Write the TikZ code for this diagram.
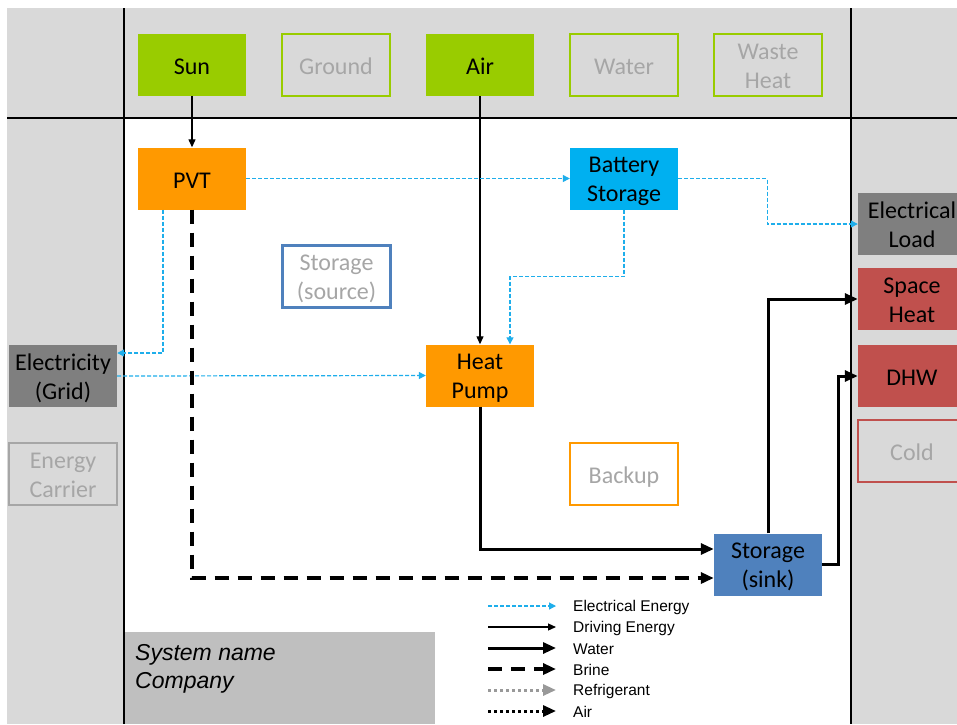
\documentclass[tikz,border=0pt]{standalone}
\usepackage{fontspec}
\setmainfont{Carlito}
\newfontfamily\legfont{Liberation Sans}
\usetikzlibrary{arrows.meta}

\definecolor{bggray}{HTML}{D9D9D9}
\definecolor{namegray}{HTML}{BFBFBF}
\definecolor{txtgray}{HTML}{A6A6A6}
\definecolor{srcgreen}{HTML}{99CC00}
\definecolor{convorange}{HTML}{FF9900}
\definecolor{batblue}{HTML}{00B0F0}
\definecolor{storblue}{HTML}{4F81BD}
\definecolor{sinkred}{HTML}{C0504D}
\definecolor{gridgray}{HTML}{7F7F7F}
\definecolor{elecline}{HTML}{1EAEEB}
\definecolor{refgray}{HTML}{999999}

\tikzset{
  box/.style={minimum width=108pt, minimum height=62pt, inner sep=0pt, align=center,
    font=\fontsize{24}{29}\selectfont, text height=40.5pt, text depth=21.5pt},
  twolines/.style={text width=108pt, text height=25pt, text depth=37pt},
  fullbox/.style={box, fill=#1, text=black},
  openbox/.style={box, draw=#1, line width=2.5pt, text=txtgray},
  elec/.style={draw=elecline, line width=1.2pt, dash pattern=on 4pt off 2pt,
    -{Triangle[length=7pt,width=7pt]}},
  drive/.style={draw=black, line width=1.2pt, -{Triangle[length=8pt,width=7pt]}},
  water/.style={draw=black, line width=3pt, -{Triangle[length=13pt,width=11pt]}},
  brine/.style={draw=black, line width=3.5pt, dash pattern=on 14pt off 9pt,
    -{Triangle[length=13pt,width=11pt]}},
  refrig/.style={draw=refgray, line width=3pt, dash pattern=on 3pt off 3pt,
    -{Triangle[length=13pt,width=11pt]}},
  airline/.style={draw=black, line width=3pt, dash pattern=on 3pt off 3pt,
    -{Triangle[length=13pt,width=11pt]}},
  legtext/.style={anchor=west, inner sep=0pt, font=\legfont\fontsize{15.5}{18}\selectfont}
}

\begin{document}
\begin{tikzpicture}[x=1pt,y=-1pt]
            \useasboundingbox (0,0) rectangle (957,724);
            % background bands
            \fill [bggray] (7,8) rectangle (957,724);
            \fill [white] (124,118) rectangle (851,724);
            \draw [line width=1.5pt, black] (124,8) -- (124,724);
            \draw [line width=1.5pt, black] (851,8) -- (851,724);
            \draw [line width=1.5pt, black] (7,118) -- (957,118);
            % top row: sources
            \node [fullbox=srcgreen] (sun) at (192,65) {Sun};
            \node [openbox=srcgreen] (ground) at (336,65) {Ground};
            \node [fullbox=srcgreen] (air) at (480,65) {Air};
            \node [openbox=srcgreen] (water) at (624,65) {Water};
            \node [openbox=srcgreen, twolines] (waste) at (768,65) {Waste\\Heat};
            % left column: energy carriers
            \node [fullbox=gridgray, twolines] (grid) at (63,376) {Electricity\\(Grid)};
            \node [openbox=txtgray, twolines] (carrier) at (63,474) {Energy\\Carrier};
            % right column: loads
            \node [fullbox=gridgray, twolines] (load) at (912,224) {Electrical\\Load};
            \node [fullbox=sinkred, twolines] (space) at (912,299) {Space\\Heat};
            \node [fullbox=sinkred] (dhw) at (912,376) {DHW};
            \node [openbox=sinkred] (cold) at (912,451) {Cold};
            % system components
            \node [fullbox=convorange] (pvt) at (192,178.5) {PVT};
            \node [fullbox=batblue, twolines] (bat) at (624,178.5) {Battery\\Storage};
            \node [openbox=storblue, twolines] (storsrc) at (336.5,276.5) {Storage\\(source)};
            \node [fullbox=convorange, twolines] (hp) at (480,375.5) {Heat\\Pump};
            \node [openbox=convorange] (backup) at (624,474) {Backup};
            \node [fullbox=storblue, twolines] (sink) at (768,564.5) {Storage\\(sink)};
            % driving energy
            \draw [drive] (sun) -- (pvt);
            \draw [drive] (air) -- (hp);
            % electrical energy
            \draw [elec] (pvt) -- (bat);
            \draw [elec] ([xshift=-29pt]pvt.south) |- ([yshift=23pt]grid.east);
            \draw [elec] (grid.east) -- (hp.west);
            \draw [elec] (bat.east) -- ++(89,0) |- (load.west);
            \draw [elec] (bat.south) -- ++(0,67) -| ([xshift=30pt]hp.north);
            % brine and water
            \draw [brine] (pvt.south) |- ([yshift=-13.5pt]sink.west);
            \draw [water] (hp.south) |- ([yshift=15.5pt]sink.west);
            \draw [water] (sink.north) |- (space.west);
            \draw [water] (sink.east) -- ++(16,0) |- (dhw.west);
            % name box
            \fill [namegray] (125,632) rectangle (435,724);
            \node [anchor=north west, inner sep=0pt, align=left,
              font=\legfont\itshape\fontsize{23}{28}\selectfont] (sysname) at (135,644) {System name\\Company};
            % legend
            \node [legtext] (legelec) at (573,607) {Electrical Energy};
            \node [legtext] (legdrive) at (573,628) {Driving Energy};
            \node [legtext] (legwater) at (573,649) {Water};
            \node [legtext] (legbrine) at (573,670) {Brine};
            \node [legtext] (legrefrig) at (573,691) {Refrigerant};
            \node [legtext] (legair) at (573,712) {Air};
            \draw [elec] (488,606) -- ([xshift=-17pt,yshift=1pt]legelec.west);
            \draw [drive] (488,627) -- ([xshift=-17pt,yshift=1pt]legdrive.west);
            \draw [water] (488,648) -- ([xshift=-17pt,yshift=1pt]legwater.west);
            \draw [brine] (488,669) -- ([xshift=-17pt,yshift=1pt]legbrine.west);
            \draw [refrig] (488,690) -- ([xshift=-17pt,yshift=1pt]legrefrig.west);
            \draw [airline] (488,711) -- ([xshift=-17pt,yshift=1pt]legair.west);
\end{tikzpicture}
\end{document}
